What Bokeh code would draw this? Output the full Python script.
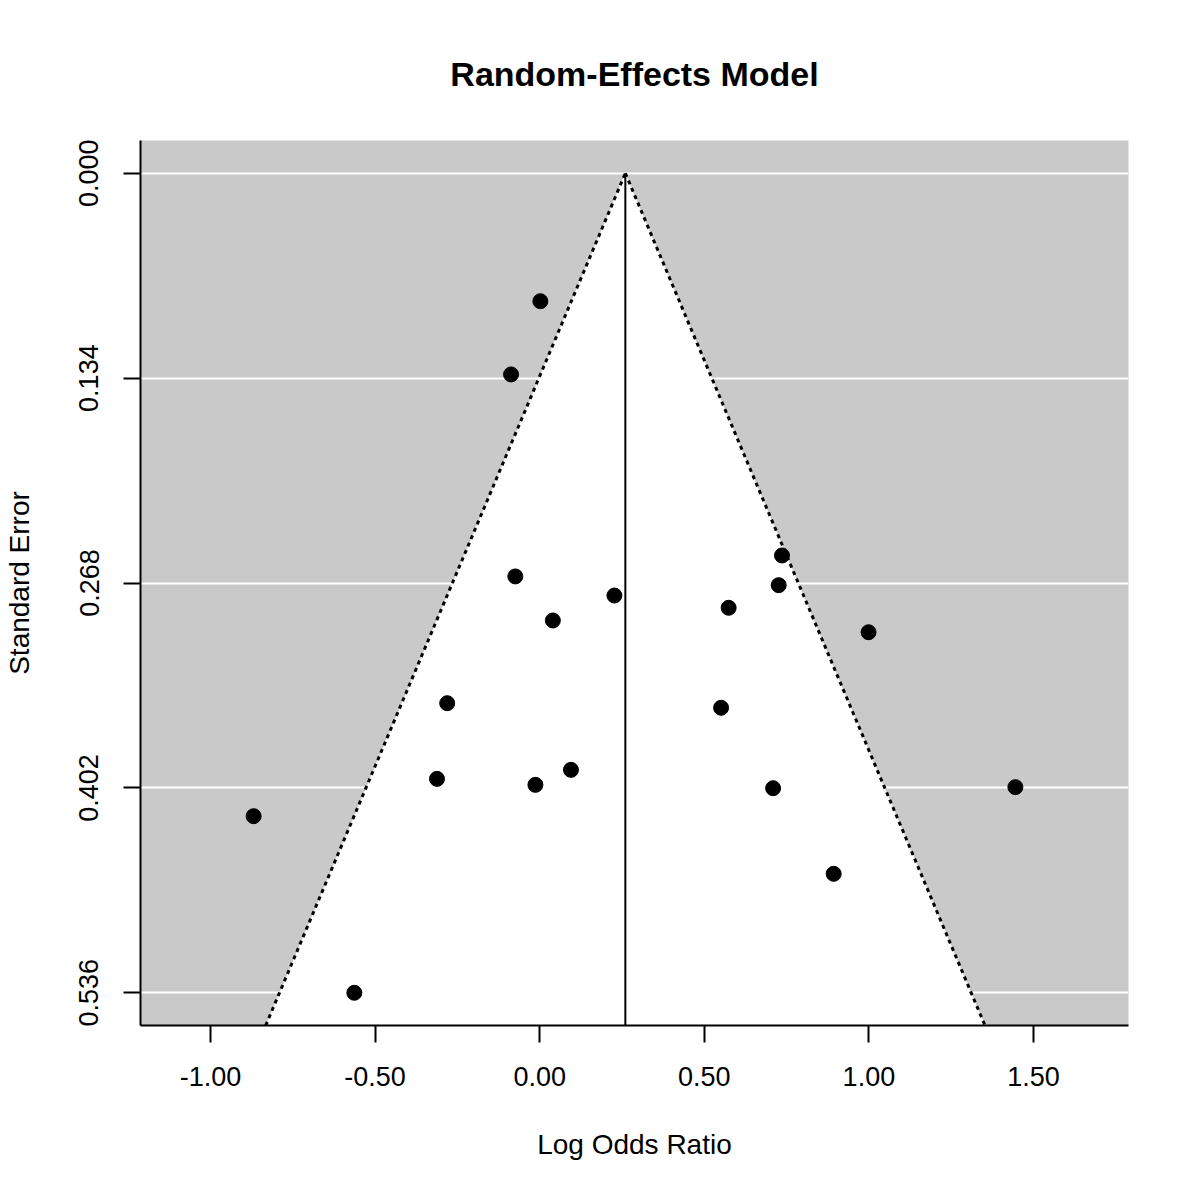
import numpy as np
from bokeh.plotting import figure
from bokeh.models import Range1d, FixedTicker
from bokeh.embed import file_html
from bokeh.resources import INLINE

# ---- data ----
log_odds = [0.002, -0.087, -0.074, 0.040, 0.227, -0.281, 0.736, 0.726, 0.574,
            0.999, 0.551, 0.709, 1.445, 0.893, -0.869, -0.563, -0.312, -0.013, 0.095]
std_err = [0.0837, 0.1316, 0.2637, 0.2925, 0.2762, 0.3466, 0.2500, 0.2694, 0.2842,
           0.3002, 0.3496, 0.4022, 0.4015, 0.4582, 0.4205, 0.5360, 0.3961, 0.4000, 0.3902]
estimate = 0.2602
x_ticks = [-1.0, -0.5, 0.0, 0.5, 1.0, 1.5]
x_tick_labels = ["-1.00", "-0.50", "0.00", "0.50", "1.00", "1.50"]
y_ticks = [0.0, 0.134, 0.268, 0.402, 0.536]
y_tick_labels = ["0.000", "0.134", "0.268", "0.402", "0.536"]

FONT = "Liberation Sans"
x_lo, x_hi = -1.2126, 1.7886
y_top, y_bot = -0.0214, 0.5574

p = figure(width=1184, height=1184, output_backend="svg", toolbar_location=None,
           x_range=Range1d(x_lo, x_hi), y_range=Range1d(y_bot, y_top),
           min_border_left=140, min_border_right=56, min_border_top=140,
           min_border_bottom=159, title="Random-Effects Model")

p.background_fill_color = "#c9c9c9"
p.border_fill_color = "white"
p.outline_line_color = None

p.title.align = "center"
p.title.text_font = FONT
p.title.text_font_size = "34px"
p.title.text_font_style = "bold"
p.title.text_color = "black"
p.title.standoff = 96

# white funnel region
z = 1.96
p.patch([estimate - z * y_bot, estimate, estimate + z * y_bot], [y_bot, 0, y_bot],
        fill_color="white", line_color=None)

# funnel borders (dotted)
p.line([estimate - z * y_bot, estimate], [y_bot, 0], line_color="black",
       line_width=3, line_dash="4 4")
p.line([estimate, estimate + z * y_bot], [0, y_bot], line_color="black",
       line_width=3, line_dash="4 4")
# estimate vertical line
p.line([estimate, estimate], [0, y_bot], line_color="black", line_width=2)

# studies
p.scatter(log_odds, std_err, size=15, marker="circle", fill_color="black", line_color="black")

# grid
p.xgrid.grid_line_color = None
p.ygrid.ticker = FixedTicker(ticks=y_ticks)
p.ygrid.grid_line_color = "white"
p.ygrid.grid_line_width = 2
p.ygrid.level = "image"

# axes
for ax in (p.xaxis[0], p.yaxis[0]):
    ax.axis_line_width = 2
    ax.major_tick_line_width = 2
    ax.major_tick_out = 17
    ax.major_tick_in = 0
    ax.minor_tick_line_color = None
    ax.major_label_text_font = FONT
    ax.major_label_text_font_size = "27px"
    ax.major_label_text_color = "black"
    ax.axis_label_text_font = FONT
    ax.axis_label_text_font_size = "28px"
    ax.axis_label_text_font_style = "normal"
    ax.axis_label_text_color = "black"
    ax.axis_line_color = "black"
    ax.major_tick_line_color = "black"

p.xaxis.ticker = FixedTicker(ticks=x_ticks)
p.xaxis.major_label_overrides = {t: l for t, l in zip(x_ticks, x_tick_labels)}
p.xaxis.axis_label = "Log Odds Ratio"
p.xaxis.major_label_standoff = 24
p.xaxis.axis_label_standoff = 40

p.yaxis.ticker = FixedTicker(ticks=y_ticks)
p.yaxis.major_label_overrides = {t: l for t, l in zip(y_ticks, y_tick_labels)}
p.yaxis.axis_label = "Standard Error"
p.yaxis.major_label_orientation = "parallel"
p.yaxis.major_label_standoff = 25
p.yaxis.axis_label_standoff = 42

open("out.html", "w").write(file_html(p, INLINE))
